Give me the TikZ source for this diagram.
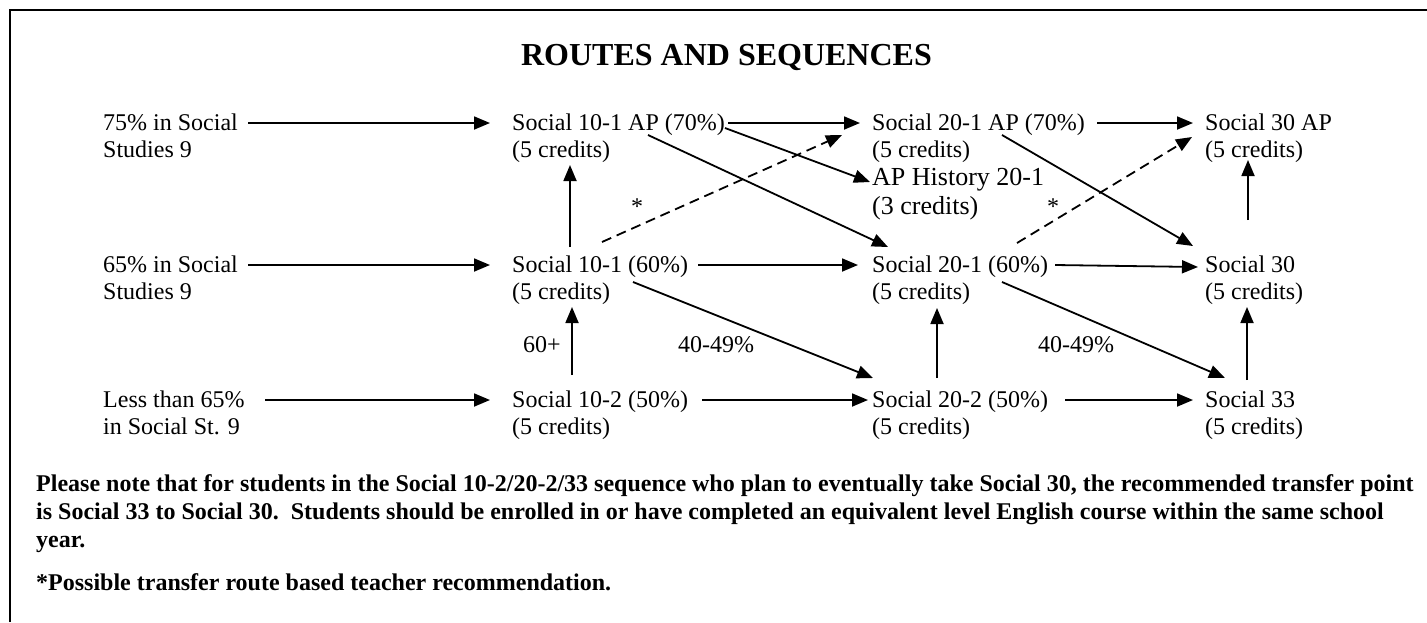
\documentclass[tikz,border=0pt]{standalone}
\usepackage{fontspec}
\setmainfont{Liberation Serif}
\usetikzlibrary{arrows.meta}
\newcommand\lns[1]{\begin{tabular}[t]{@{}l@{}}#1\end{tabular}}
\begin{document}
\begin{tikzpicture}[x=1pt,y=-1pt,
  txt/.style={anchor=base west, inner sep=0pt, font=\fontsize{24}{27}\selectfont},
  arr/.style={line width=1.8pt, -{Triangle[length=16pt,width=13pt]}},
  dsh/.style={arr, dash pattern=on 10pt off 6pt},
  lbl/.style={anchor=base, inner sep=0pt, font=\fontsize{24}{27}\selectfont},
  note/.style={anchor=base west, inner sep=0pt, font=\bfseries\fontsize{24}{28}\selectfont}]
\useasboundingbox (0,0) rectangle (1427,622);
% frame
\draw[line width=2pt] (9.5,622) -- (9.5,10) -- (1427,10);
% title
\node[anchor=base, inner sep=0pt, font=\bfseries\fontsize{32}{36}\selectfont] (title) at (726.5,65) {ROUTES AND SEQUENCES};
% entry nodes
\node[txt] (in1) at (103,130) {\lns{75\% in Social\\Studies 9}};
\node[txt] (in2) at (103,272) {\lns{65\% in Social\\Studies 9}};
\node[txt] (in3) at (103,407) {\lns{Less than 65\%\\in Social St. 9}};
% courses
\node[txt] (s10ap) at (512,130) {\lns{Social 10-1 AP (70\%)\\(5 credits)}};
\node[txt] (s10) at (512,272) {\lns{Social 10-1 (60\%)\\(5 credits)}};
\node[txt] (s102) at (512,407) {\lns{Social 10-2 (50\%)\\(5 credits)}};
\node[txt] (s20ap) at (872,130) {\lns{Social 20-1 AP (70\%)\\(5 credits)}};
\node[txt, font=\fontsize{26}{29}\selectfont] (aph) at (872,185) {\lns{AP History 20-1\\(3 credits)}};
\node[txt] (s20) at (872,272) {\lns{Social 20-1 (60\%)\\(5 credits)}};
\node[txt] (s202) at (872,407) {\lns{Social 20-2 (50\%)\\(5 credits)}};
\node[txt] (s30ap) at (1205,130) {\lns{Social 30 AP\\(5 credits)}};
\node[txt] (s30) at (1205,272) {\lns{Social 30\\(5 credits)}};
\node[txt] (s33) at (1205,407) {\lns{Social 33\\(5 credits)}};
% labels
\node[lbl] (st1) at (637,214) {*};
\node[lbl] (st2) at (1053,214) {*};
\node[lbl] (l60) at (542,352) {60+};
\node[lbl] (l4a) at (716,352) {40-49\%};
\node[lbl] (l4b) at (1076,352) {40-49\%};
% connectors
\draw[arr] ([shift={(145,-7)}]in1.base west) -- ([shift={(-22,-7)}]s10ap.base west);
\draw[arr] ([shift={(145,-7)}]in2.base west) -- ([shift={(-22,-7)}]s10.base west);
\draw[arr] ([shift={(162,-7)}]in3.base west) -- ([shift={(-22,-7)}]s102.base west);
\draw[arr] ([shift={(216,-7)}]s10ap.base west) -- ([shift={(-12,-7)}]s20ap.base west);
\draw[arr] ([shift={(213,-2)}]s10ap.base west) -- ([shift={(-2,-3)}]aph.base west);
\draw[arr] ([shift={(136,5)}]s10ap.base west) -- ([shift={(16,-25)}]s20.base west);
\draw[arr] ([shift={(58,-25)}]s10.base west) -- ([shift={(58,35)}]s10ap.base west);
\draw[dsh] ([shift={(90,-30)}]s10.base west) -- ([shift={(-30,5)}]s20ap.base west);
\draw[arr] ([shift={(186,-7)}]s10.base west) -- ([shift={(-14,-7)}]s20.base west);
\draw[arr] ([shift={(121,10)}]s10.base west) -- ([shift={(1,-29)}]s202.base west);
\draw[arr] ([shift={(60,-32)}]s102.base west) -- ([shift={(60,35)}]s10.base west);
\draw[arr] ([shift={(190,-7)}]s102.base west) -- ([shift={(-4,-7)}]s202.base west);
\draw[arr] ([shift={(225,-7)}]s20ap.base west) -- ([shift={(-12,-7)}]s30ap.base west);
\draw[arr] ([shift={(130,5)}]s20ap.base west) -- ([shift={(-12,-26)}]s30.base west);
\draw[dsh] ([shift={(145,-29)}]s20.base west) -- ([shift={(-13,7)}]s30ap.base west);
\draw[arr] ([shift={(183,-7)}]s20.base west) -- ([shift={(-7,-5)}]s30.base west);
\draw[arr] ([shift={(130,10)}]s20.base west) -- ([shift={(20,-29)}]s33.base west);
\draw[arr] ([shift={(65,-29)}]s202.base west) -- ([shift={(65,36)}]s20.base west);
\draw[arr] ([shift={(43,-52)}]s30.base west) -- ([shift={(43,30)}]s30ap.base west);
\draw[arr] ([shift={(42,-27)}]s33.base west) -- ([shift={(42,35)}]s30.base west);
\draw[arr] ([shift={(193,-7)}]s202.base west) -- ([shift={(-12,-7)}]s33.base west);
% notes
\node[note] (note1) at (36,491) {\lns{Please note that for students in the Social 10-2/20-2/33 sequence who plan to eventually take Social 30, the recommended transfer point\\is Social 33 to Social 30.\ \ Students should be enrolled in or have completed an equivalent level English course within the same school\\year.}};
\node[note] (note2) at (36,590) {*Possible transfer route based teacher recommendation.};
\end{tikzpicture}
\end{document}
